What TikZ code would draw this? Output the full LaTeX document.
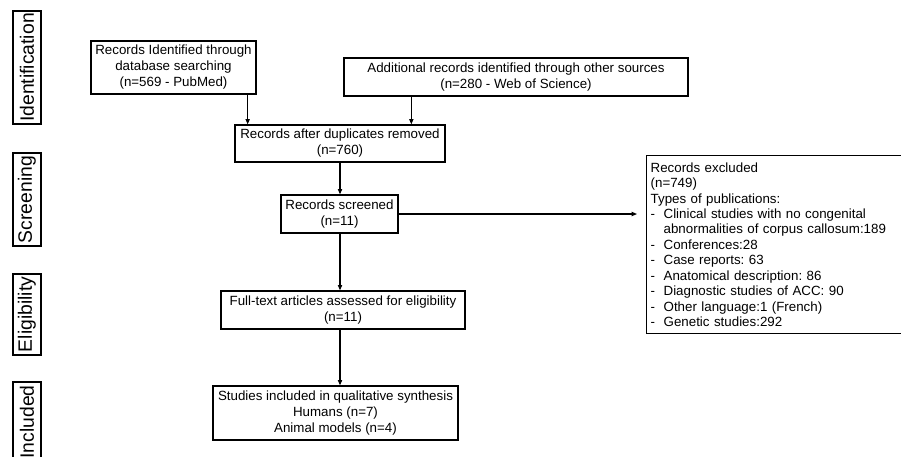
\documentclass[tikz,border=0pt]{standalone}
\usepackage{fontspec}
\setmainfont{Liberation Sans}
\usetikzlibrary{arrows.meta}
\frenchspacing
\newcommand{\itm}{\makebox[9.75pt][l]{-}}
\newcommand{\ind}{\hspace*{9.75pt}}
\begin{document}
\begin{tikzpicture}[x=0.75pt,y=-0.75pt,
  box/.style={draw,line width=1pt,align=center,inner sep=0pt,font=\fontsize{10}{12}\selectfont},
  side/.style={draw,line width=1pt,rotate=90,inner sep=0pt,minimum height=21pt,font=\fontsize{14.5}{16}\selectfont},
  conn/.style={line width=0.8pt,-{Triangle[length=4pt,width=3.2pt]}}]
\useasboundingbox (0,0) rectangle (901,457);
% side labels
\node[side,minimum width=84.75pt] (sid) at (27,67.5) {Identification};
\node[side,minimum width=69.75pt] (ssc) at (27,199.5) {Screening};
\node[side,minimum width=60.75pt] (sel) at (27,314.5) {Eligibility};
\node[side,minimum width=60pt] (sin) at (27,422) {Included};
% main boxes
\node[box,minimum width=123.75pt,minimum height=39.75pt] (A) at (173.5,67.5)
  {Records Identified through\\database searching\\(n=569 - PubMed)};
\node[box,minimum width=258pt,minimum height=28.5pt] (B) at (516,77)
  {Additional records identified through other sources\\(n=280 - Web of Science)};
\node[box,minimum width=157.5pt,minimum height=27.75pt] (C) at (340,143.5)
  {Records after duplicates removed\\(n=760)};
\node[box,minimum width=87.75pt,minimum height=28.5pt] (D) at (339.5,214)
  {Records screened\\(n=11)};
\node[box,minimum width=183pt,minimum height=28.5pt] (E) at (343,310)
  {Full-text articles assessed for eligibility\\(n=11)};
\node[box,minimum width=183.75pt,minimum height=40.5pt] (F) at (335.5,413)
  {Studies included in qualitative synthesis\\Humans (n=7)\\Animal models (n=4)};
\node[draw,line width=1pt,anchor=north west,align=left,text width=188.25pt,
  inner xsep=3pt,inner ysep=0pt,minimum height=133.5pt,
  font=\fontsize{10}{11.6}\selectfont] (G) at (646,155)
  {Records excluded\\
   (n=749)\\
   Types of publications:\\
   \itm Clinical studies with no congenital\\
   \ind abnormalities of corpus callosum:189\\
   \itm Conferences:28\\
   \itm Case reports: 63\\
   \itm Anatomical description: 86\\
   \itm Diagnostic studies of ACC: 90\\
   \itm Other language:1 (French)\\
   \itm Genetic studies:292};
% connectors
\draw[conn] ([xshift=-6.75pt]A.south east) -- ([xshift=-6.75pt]A.south east |- C.north);
\draw[conn] ([xshift=51pt]B.south west) -- ([xshift=51pt]B.south west |- C.north);
\draw[conn] (C.south) -- (C.south |- D.north);
\draw[conn] (C.south |- D.south) -- (C.south |- E.north);
\draw[conn] (C.south |- E.south) -- (C.south |- F.north);
\draw[conn,shorten >=6.75pt] (D.east) -- (D.east -| G.west);
\end{tikzpicture}
\end{document}
